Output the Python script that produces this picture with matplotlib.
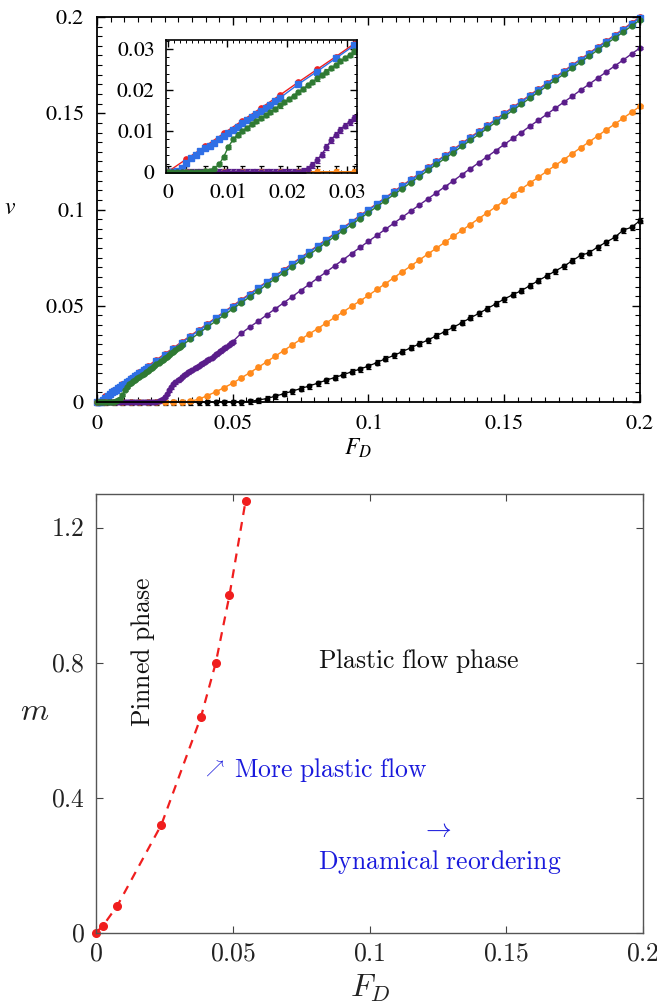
import numpy as np
import matplotlib
matplotlib.use('Agg')
import matplotlib.pyplot as plt
from matplotlib.ticker import MultipleLocator

plt.rcParams['mathtext.fontset'] = 'cm'
plt.rcParams['font.family'] = 'serif'
plt.rcParams['font.serif'] = ['Liberation Serif', 'DejaVu Serif']

# ---------------- data: top panel (v vs F_D) ----------------
F_coarse = [0, 0.003125, 0.00625, 0.009375, 0.0125, 0.015625, 0.01875, 0.021875, 0.025, 0.028125,
            0.03125, 0.034375, 0.0375, 0.040625, 0.04375, 0.046875, 0.05, 0.053125, 0.05625, 0.059375,
            0.0625, 0.065625, 0.06875, 0.071875, 0.075, 0.078125, 0.08125, 0.084375, 0.0875, 0.090625,
            0.09375, 0.096875, 0.1, 0.103125, 0.10625, 0.109375, 0.1125, 0.115625, 0.11875, 0.121875,
            0.125, 0.128125, 0.13125, 0.134375, 0.1375, 0.140625, 0.14375, 0.146875, 0.15, 0.153125,
            0.15625, 0.159375, 0.1625, 0.165625, 0.16875, 0.171875, 0.175, 0.178125, 0.18125, 0.184375,
            0.1875, 0.190625, 0.19375, 0.196875, 0.2]

F_dense = [0, 0.00078, 0.00156, 0.00234, 0.00313, 0.00391, 0.00469, 0.00547, 0.00625, 0.00703,
           0.00781, 0.00859, 0.00938, 0.01016, 0.01094, 0.01172, 0.0125, 0.01328, 0.01406, 0.01484,
           0.01563, 0.01641, 0.01719, 0.01797, 0.01875, 0.01953, 0.02031, 0.02109, 0.02188, 0.02266,
           0.02344, 0.02422, 0.025, 0.02578, 0.02656, 0.02734, 0.02813, 0.02891, 0.02969, 0.03047,
           0.03125, 0.03203, 0.03281, 0.03359, 0.03438, 0.03516, 0.03594, 0.03672, 0.0375, 0.03828,
           0.03906, 0.03984, 0.04063, 0.04141, 0.04219, 0.04297, 0.04375, 0.04453, 0.04531, 0.04609,
           0.04688, 0.04766, 0.04844, 0.04922, 0.05]

v_red = [0, 0.0031, 0.0062, 0.0094, 0.0125, 0.0156, 0.0187, 0.0219, 0.025, 0.0281, 0.0313, 0.0344,
         0.0375, 0.0406, 0.0438, 0.0469, 0.05, 0.0531, 0.0562, 0.0594, 0.0625, 0.0656, 0.0687, 0.0719,
         0.075, 0.0781, 0.0812, 0.0844, 0.0875, 0.0906, 0.0937, 0.0969, 0.1, 0.1031, 0.1062, 0.1094,
         0.1125, 0.1156, 0.1187, 0.1219, 0.125, 0.1281, 0.1312, 0.1344, 0.1375, 0.1406, 0.1437, 0.1469,
         0.15, 0.1531, 0.1562, 0.1594, 0.1625, 0.1656, 0.1687, 0.1719, 0.175, 0.1781, 0.1812, 0.1844,
         0.1875, 0.1906, 0.1937, 0.1969, 0.2]

v_blue_dense = [0, 0, 0.0002, 0.0010, 0.0022, 0.0033, 0.0042, 0.0050, 0.0057, 0.0064, 0.0071, 0.0079,
                0.0087, 0.0095, 0.0102, 0.0110, 0.0118, 0.0126, 0.0134, 0.0142, 0.0149, 0.0157, 0.0164,
                0.0172, 0.0180]
v_blue_coarse = [0.0214, 0.0245, 0.0277, 0.0309, 0.034, 0.0371, 0.0402, 0.0434, 0.0465, 0.0496, 0.0527,
                 0.0558, 0.059, 0.0621, 0.0652, 0.0683, 0.0715, 0.0746, 0.0777, 0.0808, 0.0839, 0.0871,
                 0.0902, 0.0933, 0.0965, 0.0996, 0.1027, 0.1058, 0.109, 0.1121, 0.1152, 0.1183, 0.1215,
                 0.1246, 0.1277, 0.1308, 0.134, 0.1371, 0.1402, 0.1433, 0.1465, 0.1496, 0.1527, 0.1558,
                 0.159, 0.1621, 0.1652, 0.1683, 0.1715, 0.1746, 0.1777, 0.1808, 0.184, 0.1871, 0.1902,
                 0.1933, 0.1965, 0.1996]

v_green_dense = [0, 0, 0, 0, 0, 0, 0, 0, 0.0001, 0.0003, 0.0008, 0.0018, 0.0037, 0.0061, 0.0079, 0.0091,
                 0.0100, 0.0108, 0.0116, 0.0123, 0.0131, 0.0138, 0.0146, 0.0154, 0.0162, 0.0170, 0.0178,
                 0.0186, 0.0195, 0.0203, 0.0211, 0.0219, 0.0228, 0.0236, 0.0245, 0.0253, 0.0261, 0.0270,
                 0.0278, 0.0286, 0.0294]
v_green_coarse = [0.0325, 0.0357, 0.0389, 0.042, 0.0452, 0.0484, 0.0515, 0.0546, 0.0577, 0.0609, 0.064,
                  0.0671, 0.0703, 0.0734, 0.0765, 0.0796, 0.0828, 0.0859, 0.089, 0.0921, 0.0953, 0.0984,
                  0.1015, 0.1046, 0.1078, 0.1109, 0.114, 0.1171, 0.1203, 0.1234, 0.1265, 0.1296, 0.1328,
                  0.1359, 0.139, 0.1421, 0.1453, 0.1484, 0.1515, 0.1546, 0.1578, 0.1609, 0.164, 0.1671,
                  0.1703, 0.1734, 0.1765, 0.1796, 0.1828, 0.1859, 0.189, 0.1921, 0.1953, 0.1984]

v_purple_dense = [0, 0, 0, 0, 0, 0, 0, 0, 0, 0, 0, 0, 0, 0, 0, 0, 0, 0, 0, 0, 0, 0, 0, 0, 0, 0, 0, 0, 0,
                  0.0003, 0.0008, 0.0016, 0.0028, 0.0042, 0.0060, 0.0077, 0.0091, 0.0102, 0.0113, 0.0122,
                  0.0131, 0.0140, 0.0147, 0.0154, 0.0161, 0.0168, 0.0175, 0.0182, 0.0189, 0.0196, 0.0203,
                  0.0210, 0.0217, 0.0224, 0.0231, 0.0239, 0.0247, 0.0255, 0.0263, 0.0271, 0.0279, 0.0287,
                  0.0296, 0.0305, 0.0314]
v_purple_coarse = [0.0357, 0.0389, 0.0420, 0.0452, 0.0484, 0.0515, 0.0547, 0.0579, 0.0611, 0.0643, 0.0675,
                   0.0707, 0.0739, 0.0771, 0.0803, 0.0835, 0.0866, 0.0898, 0.0929, 0.0961, 0.0992, 0.1024,
                   0.1055, 0.1087, 0.1118, 0.1149, 0.1181, 0.1212, 0.1243, 0.1275, 0.1306, 0.1338, 0.1369,
                   0.14, 0.1432, 0.1463, 0.1494, 0.1526, 0.1557, 0.1588, 0.162, 0.1651, 0.1682, 0.1714,
                   0.1745, 0.1776, 0.1808, 0.1839]

v_orange = [0, 0, 0, 0, 0, 0, 0, 0, 0, 0, 0, 0.0003, 0.0015, 0.0033, 0.0053, 0.0075, 0.0098, 0.0125,
            0.0152, 0.018, 0.0209, 0.0238, 0.0267, 0.0296, 0.0325, 0.0353, 0.0381, 0.041, 0.0439, 0.0468,
            0.0497, 0.0525, 0.0554, 0.0585, 0.0615, 0.0646, 0.0677, 0.0707, 0.0738, 0.0769, 0.0799, 0.083,
            0.0861, 0.0891, 0.0922, 0.0953, 0.0983, 0.1014, 0.1045, 0.1075, 0.1106, 0.1137, 0.1167, 0.1198,
            0.1229, 0.1259, 0.129, 0.1321, 0.1351, 0.1382, 0.1413, 0.1443, 0.1474, 0.1505, 0.1536]

v_black = [0, 0, 0, 0, 0, 0, 0, 0, 0, 0, 0, 0, 0, 0, 0, 0, 0, 0, 0.0003, 0.001, 0.0018, 0.003, 0.0043,
           0.0056, 0.007, 0.0083, 0.0098, 0.0113, 0.0127, 0.0141, 0.0157, 0.0171, 0.0187, 0.0205, 0.0225,
           0.0242, 0.0262, 0.0282, 0.0302, 0.0322, 0.0344, 0.0366, 0.0388, 0.0412, 0.0437, 0.046, 0.0485,
           0.051, 0.0535, 0.0557, 0.0578, 0.0604, 0.063, 0.0655, 0.068, 0.0705, 0.0733, 0.0762, 0.0775,
           0.0805, 0.083, 0.0855, 0.0892, 0.0908, 0.0942]

err_black = 0.0013
err_orange = 0.0008
err_purple = 0.0007
err_green = 0.0005

top_ticks = [0, 0.05, 0.1, 0.15, 0.2]
top_ticklabels = ['0', '0.05', '0.1', '0.15', '0.2']
inset_ticks = [0, 0.01, 0.02, 0.03]
inset_ticklabels = ['0', '0.01', '0.02', '0.03']

# ---------------- data: bottom panel (m vs F_D) ----------------
F_th = [0, 0.0025, 0.0078, 0.0239, 0.0384, 0.0438, 0.0488, 0.0547]
m_vals = [0, 0.02, 0.08, 0.32, 0.64, 0.8, 1.0, 1.28]
bot_xticks = [0, 0.05, 0.1, 0.15, 0.2]
bot_xticklabels = ['0', '0.05', '0.1', '0.15', '0.2']
bot_yticks = [0, 0.4, 0.8, 1.2]
bot_yticklabels = ['0', '0.4', '0.8', '1.2']

C_RED = '#f01e1e'
C_BLUE = '#2f6fe6'
C_GREEN = '#2f7a33'
C_PURPLE = '#5a1d8a'
C_ORANGE = '#ff8a1c'
C_BLACK = '#000000'
C_ANN = '#1a1adc'


def noclip(container):
    for a in container.get_children():
        a.set_clip_on(False)


def draw_curves(ax, clip):
    conts = []
    conts.append(ax.errorbar(F_coarse, v_black, yerr=err_black, color=C_BLACK, marker='o', ms=3.2,
                             lw=0.9, elinewidth=0.9, capsize=1.8, capthick=0.9))
    conts.append(ax.errorbar(F_coarse, v_orange, yerr=err_orange, color=C_ORANGE, marker='o', ms=3.8,
                             lw=1.0, elinewidth=0.9, capsize=1.8, capthick=0.9))
    conts.append(ax.errorbar(F_dense + F_coarse[17:], v_purple_dense + v_purple_coarse, yerr=err_purple,
                             color=C_PURPLE, marker='o', ms=3.3, lw=1.0, elinewidth=0.9, capsize=1.8,
                             capthick=0.9))
    conts.append(ax.errorbar(F_dense[:41] + F_coarse[11:], v_green_dense + v_green_coarse, yerr=err_green,
                             color=C_GREEN, marker='o', ms=3.5, lw=1.0, elinewidth=0.9, capsize=1.8,
                             capthick=0.9))
    l1, = ax.plot(F_coarse, v_red, color=C_RED, marker='o', ms=3.8, lw=1.0)
    l2, = ax.plot(F_dense[:25] + F_coarse[7:], v_blue_dense + v_blue_coarse, color=C_BLUE, marker='s',
                  ms=4.4, lw=1.0)
    if not clip:
        for c in conts:
            noclip(c)
        l1.set_clip_on(False)
        l2.set_clip_on(False)


def math_labels(labels):
    return ['$' + s + '$' for s in labels]


def set_stix(ax):
    for lab in ax.get_xticklabels() + ax.get_yticklabels():
        lab.set_math_fontfamily('stix')


fig = plt.figure(figsize=(6.57, 10.07), dpi=100)

# ---------------- top panel ----------------
ax1 = fig.add_axes([0.14764, 0.60079, 0.82648, 0.38233])
draw_curves(ax1, clip=False)
ax1.set_xlim(0, 0.2)
ax1.set_ylim(0, 0.2)
ax1.set_xticks(top_ticks)
ax1.set_xticklabels(math_labels(top_ticklabels))
ax1.set_yticks(top_ticks)
ax1.set_yticklabels(math_labels(top_ticklabels))
set_stix(ax1)
ax1.xaxis.set_minor_locator(MultipleLocator(0.005))
ax1.yaxis.set_minor_locator(MultipleLocator(0.005))
ax1.tick_params(which='both', direction='in', top=True, right=True, labelsize=16, pad=9)
ax1.tick_params(which='major', length=6, width=1)
ax1.tick_params(which='minor', length=3.5, width=0.8)
for s in ax1.spines.values():
    s.set_linewidth(1.3)
fig.text(10 / 657, 1 - 209 / 1007, '$v$', math_fontfamily='stix', fontsize=17, ha='center', va='center')
fig.text(358 / 657, 1 - 448 / 1007, '$F_D$', math_fontfamily='stix', fontsize=17, ha='center', va='center')

# inset
axi = fig.add_axes([0.25266, 0.82820, 0.29072, 0.13208])
draw_curves(axi, clip=True)
axi.set_xlim(-0.0003, 0.0317)
axi.set_ylim(-0.0003, 0.0322)
axi.set_xticks(inset_ticks)
axi.set_xticklabels(math_labels(inset_ticklabels))
axi.set_yticks(inset_ticks)
axi.set_yticklabels(math_labels(inset_ticklabels))
set_stix(axi)
axi.xaxis.set_minor_locator(MultipleLocator(0.001))
axi.yaxis.set_minor_locator(MultipleLocator(0.002))
axi.tick_params(which='both', direction='in', top=True, right=True, labelsize=15.5, pad=8)
axi.tick_params(which='major', length=5, width=1)
axi.tick_params(which='minor', length=2.5, width=0.7)
for s in axi.spines.values():
    s.set_linewidth(1.2)

# ---------------- bottom panel ----------------
ax2 = fig.add_axes([0.14612, 0.07378, 0.83257, 0.43565])
ax2.plot(F_th, m_vals, color=C_RED, ls=(0, (4, 3.2)), lw=1.6, marker='o', ms=5.5, clip_on=False)
ax2.set_xlim(0, 0.2)
ax2.set_ylim(0, 1.3)
ax2.set_xticks(bot_xticks)
ax2.set_xticklabels(math_labels(bot_xticklabels))
ax2.set_yticks(bot_yticks)
ax2.set_yticklabels(math_labels(bot_yticklabels))
ax2.tick_params(which='major', direction='in', top=True, right=True, length=5, width=0.8,
                color='#444444', labelsize=18.5, pad=8, labelcolor='#222222')
for s in ax2.spines.values():
    s.set_linewidth(1.0)
    s.set_color('#555555')

fig.text(35 / 657, 1 - 713 / 1007, '$m$', fontsize=23, ha='center', va='center', color='#222222')
fig.text(370 / 657, 1 - 988 / 1007, '$F_D$', fontsize=23, ha='center', va='center', color='#222222')

ax2.text(0.0172, 0.8315, r'$\mathrm{Pinned\ phase}$', rotation=90, fontsize=18.5, ha='center',
         va='center', color='#111111')
ax2.text(0.1179, 0.804, r'$\mathrm{Plastic\ flow\ phase}$', fontsize=18.5, ha='center', va='center',
         color='#111111')
ax2.text(0.0430, 0.488, r'$\nearrow$', fontsize=13, ha='center', va='center', color=C_ANN)
ax2.text(0.0503, 0.483, r'$\mathrm{More\ plastic\ flow}$', fontsize=18.5, ha='left',
         va='center', color=C_ANN)
ax2.text(0.1246, 0.303, r'$\rightarrow$', fontsize=18.5, ha='center', va='center', color=C_ANN)
ax2.text(0.1258, 0.2107, r'$\mathrm{Dynamical\ reordering}$', fontsize=18.5, ha='center', va='center',
         color=C_ANN)

fig.savefig('out.png', dpi=100, facecolor='white')
